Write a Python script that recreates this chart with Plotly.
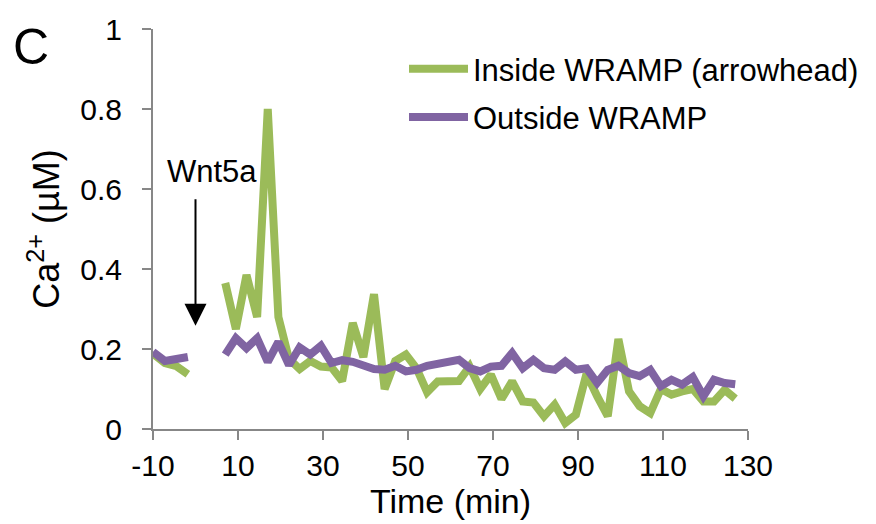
import plotly.graph_objects as go

# ---- data ----
pre_time = [-10, -7.2, -4.5, -1.8]
post_time = [7 + 2.5 * i for i in range(49)]

inside_pre = [0.188, 0.165, 0.157, 0.137]
inside_post = [0.365, 0.25, 0.385, 0.28, 0.80, 0.28, 0.175, 0.15, 0.17, 0.156,
               0.154, 0.12, 0.265, 0.18, 0.337, 0.10, 0.17, 0.186, 0.152, 0.092,
               0.119, 0.12, 0.12, 0.156, 0.10, 0.136, 0.075, 0.119, 0.069, 0.066,
               0.032, 0.061, 0.015, 0.036, 0.138, 0.082, 0.032, 0.225, 0.094, 0.057,
               0.04, 0.10, 0.086, 0.094, 0.10, 0.069, 0.069, 0.098, 0.076]

outside_pre = [0.193, 0.17, 0.175, 0.18]
outside_post = [0.186, 0.227, 0.202, 0.227, 0.168, 0.218, 0.160, 0.204, 0.186, 0.208,
                0.165, 0.172, 0.168, 0.16, 0.15, 0.148, 0.158, 0.144, 0.148, 0.158,
                0.163, 0.165, 0.173, 0.152, 0.144, 0.156, 0.158, 0.19, 0.152, 0.173,
                0.152, 0.148, 0.169, 0.148, 0.152, 0.115, 0.148, 0.158, 0.14, 0.132,
                0.148, 0.107, 0.123, 0.111, 0.13, 0.082, 0.123, 0.115, 0.112]

x_ticks = [-10, 10, 30, 50, 70, 90, 110, 130]
y_ticks = [0, 0.2, 0.4, 0.6, 0.8, 1]
y_tick_labels = ["0", "0.2", "0.4", "0.6", "0.8", "1"]

series_names = ["Inside WRAMP (arrowhead)", "Outside WRAMP"]
colors = ["#9BBB59", "#8064A2"]

FONT = "Arial, 'Liberation Sans', sans-serif"

fig = go.Figure()
for k, (name, color, pre, post) in enumerate([
    (series_names[0], colors[0], inside_pre, inside_post),
    (series_names[1], colors[1], outside_pre, outside_post),
]):
    fig.add_trace(go.Scatter(
        x=pre_time + [None] + post_time,
        y=pre + [None] + post,
        mode="lines",
        name=name,
        legendgroup=f"g{k}",
        line=dict(color=color, width=8),
        connectgaps=False,
    ))

axis_common = dict(
    showgrid=False, zeroline=False, showline=True, linecolor="#878787", linewidth=2,
    ticks="outside", tickcolor="#878787", tickwidth=2, ticklen=9,
    tickfont=dict(family=FONT, size=30, color="black"),
    automargin=False,
)

fig.update_xaxes(
    range=[-10, 130], tickvals=x_ticks, ticktext=[str(v) for v in x_ticks],
    title=dict(text="Time (min)", font=dict(family=FONT, size=34, color="black"), standoff=0),
    **axis_common,
)
fig.update_yaxes(
    range=[0, 1], tickvals=y_ticks, ticktext=y_tick_labels,
    title=dict(text="Ca<sup>2+</sup> (µM)", font=dict(family=FONT, size=36, color="black"), standoff=10),
    ticklabelstandoff=14,
    **axis_common,
)

fig.add_annotation(
    x=0, y=0.258, ax=0, ay=0.578, xref="x", yref="y", axref="x", ayref="y",
    showarrow=True, arrowhead=2, arrowsize=2.2, arrowwidth=2, arrowcolor="black", text="",
)
fig.add_annotation(
    x=3.9, y=0.644, xref="x", yref="y", text="Wnt5a", showarrow=False,
    font=dict(family=FONT, size=31, color="black"),
)
fig.add_annotation(
    x=(31 - 153) / 595, y=(429 - 47) / 400, xref="paper", yref="paper", text="C",
    showarrow=False, xanchor="center", yanchor="middle",
    font=dict(family=FONT, size=50, color="black"),
)

# the page shows the figure 8 px in from the top-left corner, so margins are offset
fig.update_layout(
    width=876, height=524,
    margin=dict(l=145, r=136, t=21, b=103),
    paper_bgcolor="white", plot_bgcolor="white",
    showlegend=True,
    legend=dict(
        x=(404 - 153) / 595, y=(429 - 42) / 400, xanchor="left", yanchor="top",
        font=dict(family=FONT, size=31, color="black"),
        bgcolor="rgba(0,0,0,0)", tracegroupgap=5, itemwidth=59,
    ),
)

fig.write_html("out.html")
